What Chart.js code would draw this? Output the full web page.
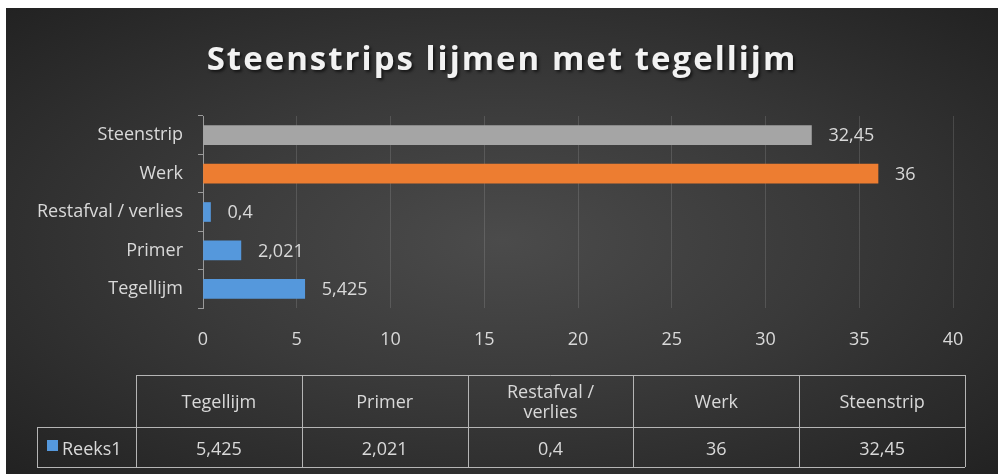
<!DOCTYPE html>
<html>
<head>
<meta charset="utf-8">
<script src="https://cdn.jsdelivr.net/npm/chart.js@4.4.0/dist/chart.umd.min.js"></script>
<style>
  html, body { margin: 0; padding: 0; background: #fff; }
  #wrap {
    position: absolute; left: 6px; top: 8px; width: 992px; height: 466px;
    background: radial-gradient(ellipse at 50% 50%, #4b4b4b 0%, #3a3a3a 45%, #222 100%);
  }
</style>
</head>
<body>
<div id="wrap"><canvas id="grafico" width="992" height="466"></canvas></div>
<script>
// gegevens uit de grafiek
const titel = 'Steenstrips lijmen met tegellijm';
const categorieen = ['Tegellijm', 'Primer', 'Restafval / verlies', 'Werk', 'Steenstrip'];
const tabelKoppen = [['Tegellijm'], ['Primer'], ['Restafval /', 'verlies'], ['Werk'], ['Steenstrip']];
const reeksNaam = 'Reeks1';
const waarden = [5.425, 2.021, 0.4, 36, 32.45];
const kleuren = ['#5598dc', '#5598dc', '#5598dc', '#ed7d31', '#a5a5a5'];
const xTicks = [0, 5, 10, 15, 20, 25, 30, 35, 40];

const lettertype = '"Open Sans", "DejaVu Sans", sans-serif';
const tekstKleur = '#d9d9d9';

function nl(v) {
    return String(v).replace('.', ',');
}

// titel, waardelabels en gegevenstabel
const extraTekenen = {
    id: 'extraTekenen',
    afterDatasetsDraw(chart) {
        const ctx = chart.ctx;
        ctx.save();
        // titel
        ctx.font = 'bold 33px ' + lettertype;
        ctx.letterSpacing = '2px';
        ctx.fillStyle = '#f2f2f2';
        ctx.textAlign = 'center';
        ctx.textBaseline = 'middle';
        ctx.shadowColor = 'rgba(0,0,0,0.6)';
        ctx.shadowOffsetX = 2;
        ctx.shadowOffsetY = 2;
        ctx.shadowBlur = 3;
        ctx.fillText(titel, 496, 53);
        ctx.shadowColor = 'transparent';
        ctx.letterSpacing = '0px';

        // waardelabels naast de balken
        const meta = chart.getDatasetMeta(0);
        ctx.font = '18px ' + lettertype;
        ctx.fillStyle = tekstKleur;
        ctx.textAlign = 'left';
        meta.data.forEach(function(bar, i) {
            ctx.fillText(nl(waarden[i]), bar.x + 17, bar.y + 1);
        });

        // gegevenstabel
        const links = 31, kol0 = 130, kolB = 165.8;
        const rij0 = 367, rij1 = 419, rij2 = 459;
        const rechts = kol0 + kolB * categorieen.length;
        ctx.strokeStyle = '#b5b5b5';
        ctx.lineWidth = 1;
        ctx.beginPath();
        ctx.moveTo(kol0, rij0 + 0.5); ctx.lineTo(rechts, rij0 + 0.5);
        ctx.moveTo(links, rij1 + 0.5); ctx.lineTo(rechts, rij1 + 0.5);
        ctx.moveTo(links, rij2 + 0.5); ctx.lineTo(rechts, rij2 + 0.5);
        ctx.moveTo(links + 0.5, rij1); ctx.lineTo(links + 0.5, rij2);
        for (let i = 0; i <= categorieen.length; i++) {
            const x = Math.round(kol0 + kolB * i) + 0.5;
            ctx.moveTo(x, rij0); ctx.lineTo(x, rij2);
        }
        ctx.stroke();

        ctx.textAlign = 'center';
        ctx.fillStyle = tekstKleur;
        ctx.font = '18px ' + lettertype;
        tabelKoppen.forEach(function(regels, i) {
            const cx = kol0 + kolB * (i + 0.5);
            const cy = (rij0 + rij1) / 2 + 2;
            regels.forEach(function(r, j) {
                ctx.fillText(r, cx, cy + (j - (regels.length - 1) / 2) * 20);
            });
            ctx.fillText(nl(waarden[i]), cx, (rij1 + rij2) / 2 + 3);
        });
        // legenda in de tabel
        ctx.fillStyle = kleuren[0];
        ctx.fillRect(41, 432, 11, 11);
        ctx.fillStyle = tekstKleur;
        ctx.textAlign = 'left';
        ctx.fillText(reeksNaam, 56, (rij1 + rij2) / 2 + 3);
        ctx.restore();
    }
};

new Chart(document.getElementById('grafico'), {
    type: 'bar',
    data: {
        labels: categorieen,
        datasets: [{
            label: reeksNaam,
            data: waarden,
            backgroundColor: kleuren,
            borderWidth: 0,
            barThickness: 19
        }]
    },
    options: {
        indexAxis: 'y',
        responsive: false,
        animation: false,
        devicePixelRatio: 1,
        layout: { padding: { top: 108, right: 45, left: 0, bottom: 0 } },
        plugins: {
            legend: { display: false },
            tooltip: { enabled: false }
        },
        scales: {
            x: {
                min: 0,
                max: 40,
                afterBuildTicks: function(scale) {
                    scale.ticks = xTicks.map(function(v) { return { value: v }; });
                },
                afterFit: function(scale) { scale.height = 166; },
                border: { display: false },
                grid: { color: 'rgba(255,255,255,0.13)', drawTicks: false },
                ticks: {
                    color: tekstKleur,
                    font: { size: 18, family: lettertype },
                    padding: 21
                }
            },
            y: {
                reverse: true,
                afterFit: function(scale) { scale.width = 197; },
                border: { display: true, color: '#9a9a9a' },
                grid: { offset: true, drawOnChartArea: false, drawTicks: true, tickLength: 5, color: '#9a9a9a' },
                ticks: {
                    color: tekstKleur,
                    font: { size: 18, family: lettertype },
                    padding: 15
                }
            }
        }
    },
    plugins: [extraTekenen]
});
</script>
</body>
</html>
